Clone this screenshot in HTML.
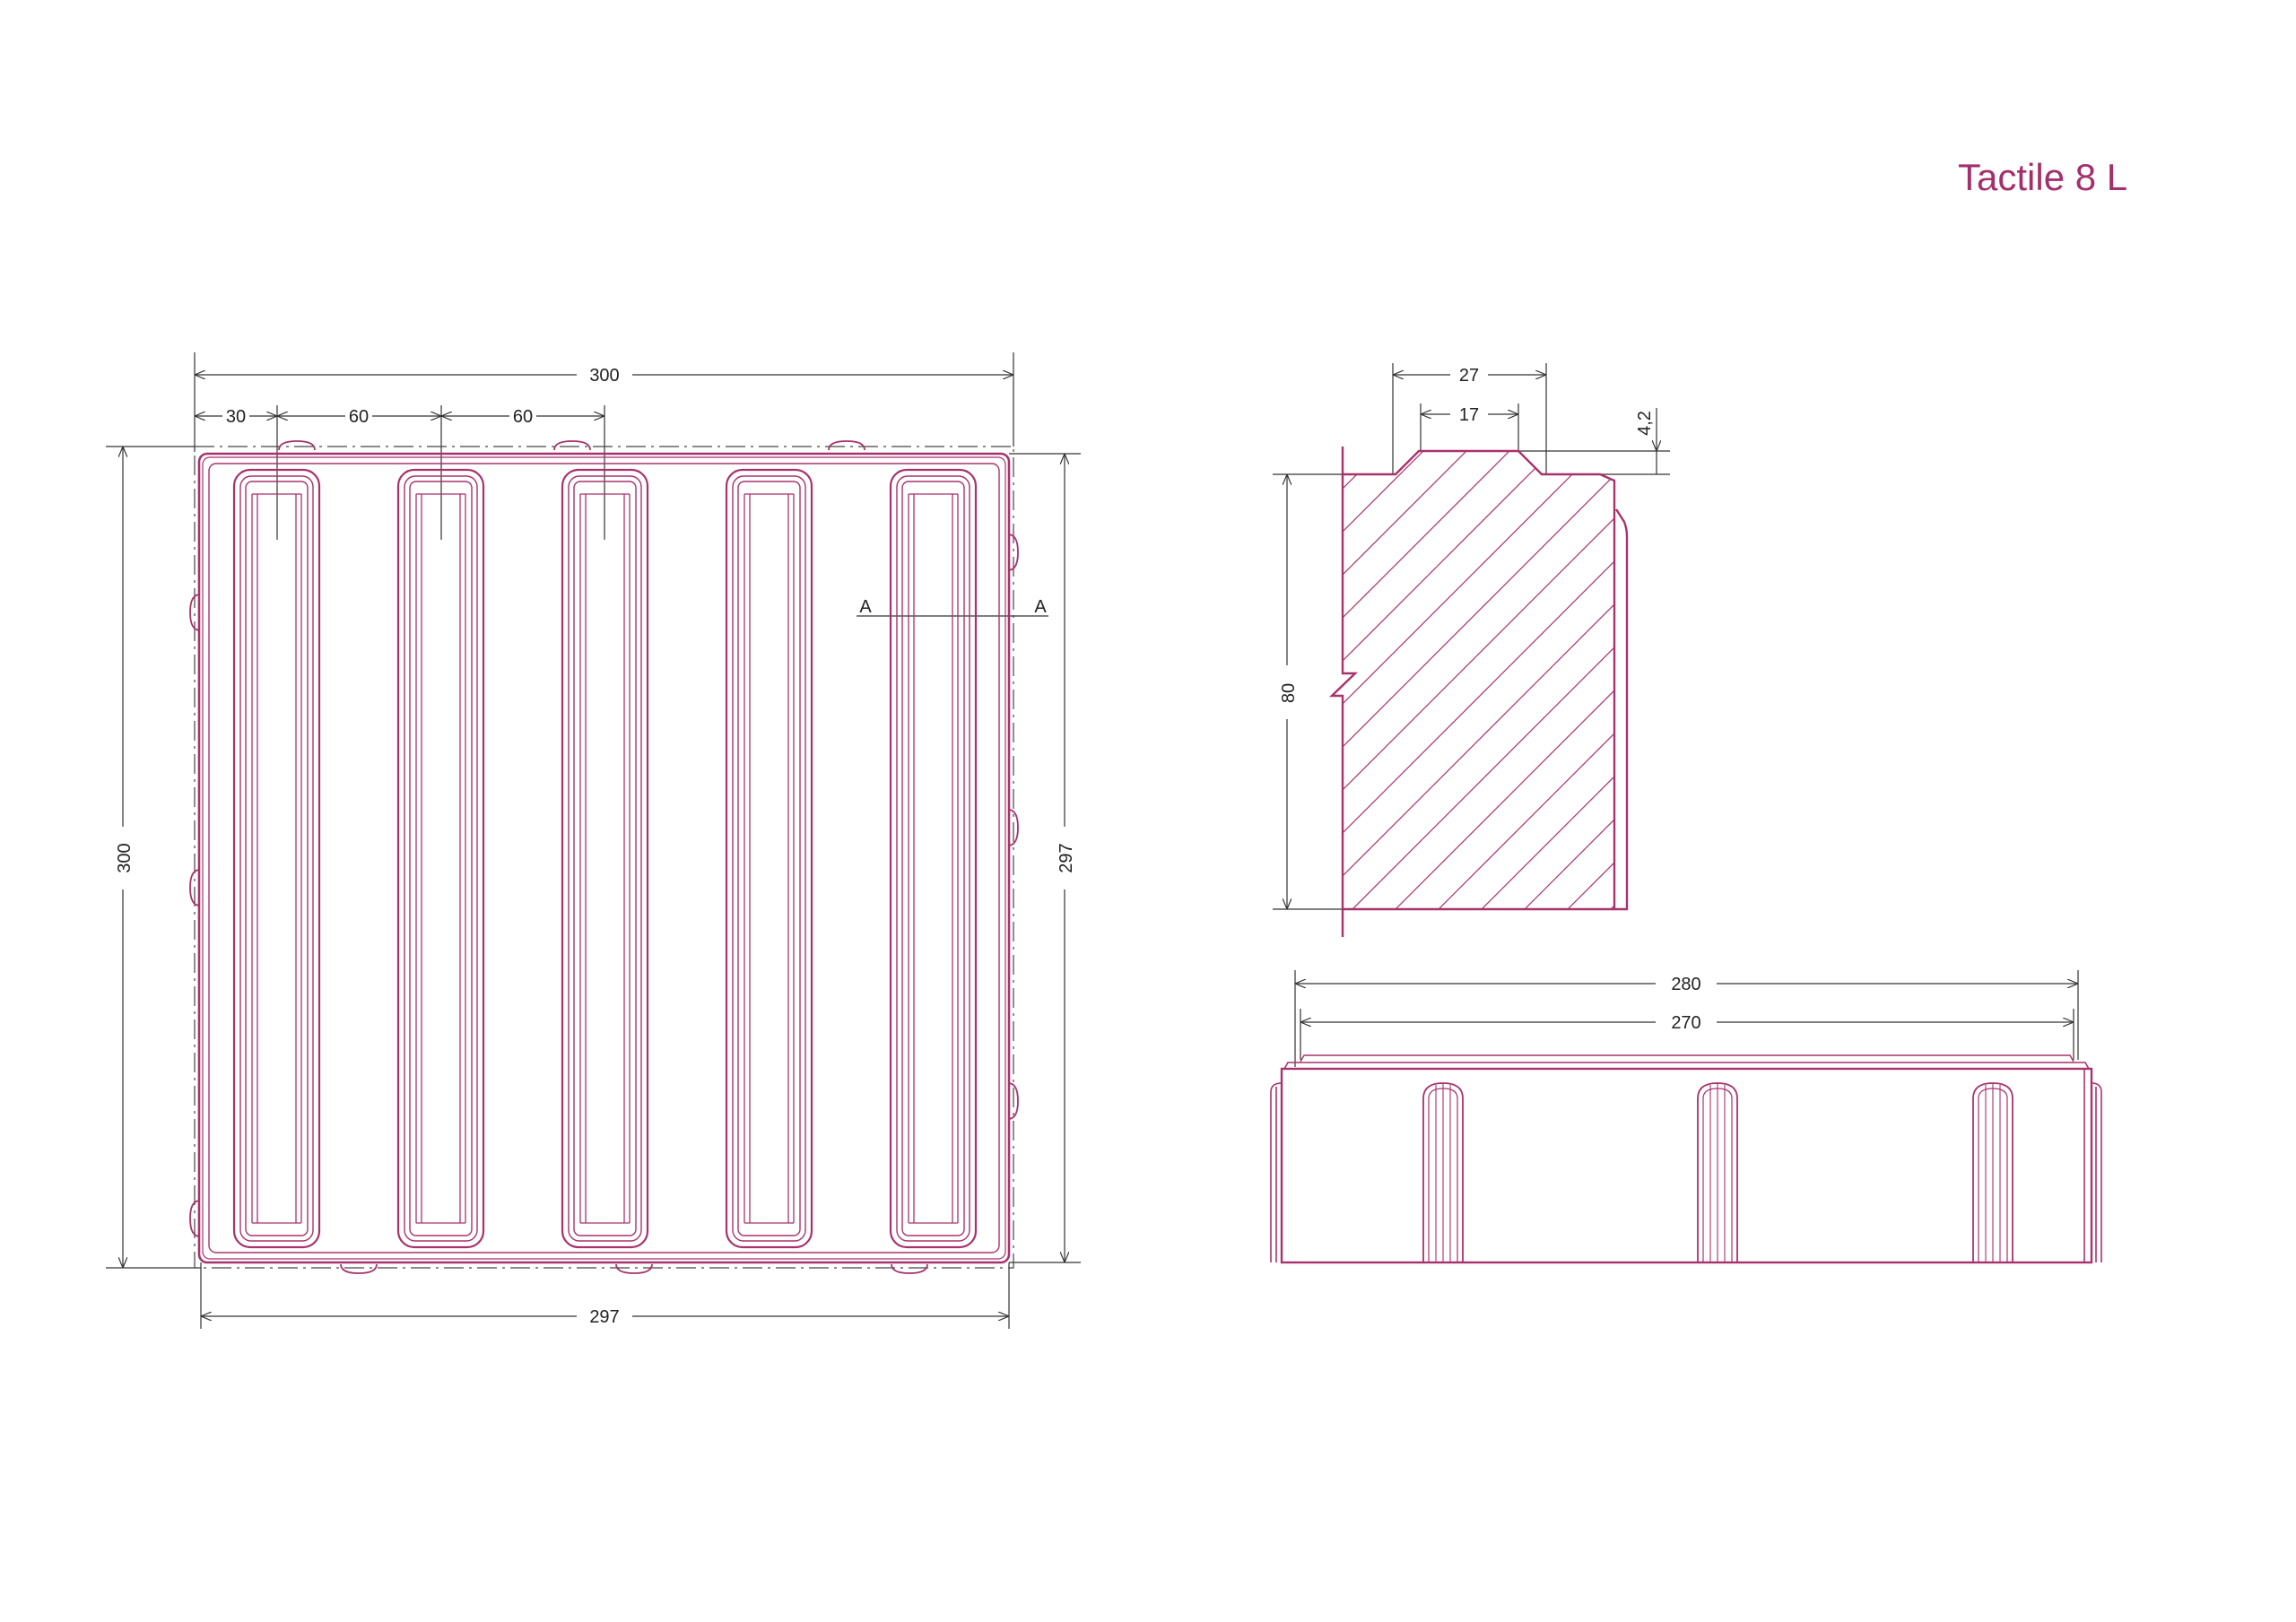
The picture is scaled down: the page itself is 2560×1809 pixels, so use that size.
<!DOCTYPE html>
<html><head><meta charset="utf-8"><style>
html,body{margin:0;padding:0;background:#fff;}
svg{display:block}
text{font-family:"Liberation Sans",sans-serif;fill:#222}
</style></head><body>
<svg width="2560" height="1809" viewBox="0 0 2560 1809" xmlns="http://www.w3.org/2000/svg">
<defs>
<marker id="ar" viewBox="0 0 12 10" refX="12" refY="5" markerWidth="12" markerHeight="10" markerUnits="userSpaceOnUse" orient="auto-start-reverse">
<path d="M0,0 L12,5 L0,10" fill="none" stroke="#333" stroke-width="1.2"/>
</marker>
<g id="bar" fill="none" stroke="#a8326c">
<rect x="0" y="0" width="95" height="867" rx="18" stroke-width="2.2"/>
<rect x="7" y="7" width="81" height="853" rx="12" stroke-width="1.4"/>
<rect x="13" y="13" width="69" height="841" rx="7" stroke-width="1.4"/>
<path d="M20 27 V840 M75 27 V840 M26 27 V840 M69 27 V840 M20 27 H75 M20 840 H75" stroke-width="1.3"/>
</g>
<g id="lug" fill="none" stroke="#a8326c" stroke-width="1.8">
<path d="M0 200 V17 Q0 0 22 0 Q44 0 44 17 V200"/>
<path d="M6 200 V17 Q6 6 22 6 Q38 6 38 17 V200" stroke-width="1.2"/>
<path d="M14 200 V2 M22 200 V0 M30 200 V2" stroke-width="1.1"/>
</g>
<clipPath id="sec"><path d="M1497,529 L1556,529 L1582,503 L1693,503 L1719,529 L1784,529 L1800,536 L1800,1014 L1497,1014 Z"/></clipPath>
</defs>

<text x="2183" y="212" font-size="42" style="fill:#a3306a">Tactile 8 L</text>

<!-- PLAN VIEW -->
<g stroke="#333" stroke-width="1.2" fill="none">
<path d="M217 393 V504 M1130 393 V498"/>
<line x1="217" y1="418" x2="1130" y2="418" marker-start="url(#ar)" marker-end="url(#ar)"/>
<line x1="217" y1="464" x2="309" y2="464" marker-start="url(#ar)" marker-end="url(#ar)"/>
<line x1="309" y1="464" x2="492" y2="464" marker-start="url(#ar)" marker-end="url(#ar)"/>
<line x1="492" y1="464" x2="674" y2="464" marker-start="url(#ar)" marker-end="url(#ar)"/>
<path d="M309 452 V602 M492 452 V602 M674 452 V602"/>
<path d="M118 498 H217 M118 1414 H224"/>
<line x1="137" y1="498" x2="137" y2="1414" marker-start="url(#ar)" marker-end="url(#ar)"/>
<path d="M1125 506 H1205 M1125 1408 H1205"/>
<line x1="1187" y1="506" x2="1187" y2="1408" marker-start="url(#ar)" marker-end="url(#ar)"/>
<path d="M224 1408 V1482 M1125 1408 V1482"/>
<line x1="224" y1="1468" x2="1125" y2="1468" marker-start="url(#ar)" marker-end="url(#ar)"/>
<line x1="955" y1="687" x2="1169" y2="687"/>
</g>
<g font-size="20">
<rect x="643" y="402" width="62" height="32" fill="#fff"/>
<text x="674" y="425" text-anchor="middle">300</text>
<rect x="248" y="451" width="30" height="26" fill="#fff"/>
<text x="263" y="471" text-anchor="middle">30</text>
<rect x="385" y="451" width="30" height="26" fill="#fff"/>
<text x="400" y="471" text-anchor="middle">60</text>
<rect x="568" y="451" width="30" height="26" fill="#fff"/>
<text x="583" y="471" text-anchor="middle">60</text>
<rect x="643" y="1452" width="62" height="32" fill="#fff"/>
<text x="674" y="1475" text-anchor="middle">297</text>
<rect x="124" y="922" width="28" height="70" fill="#fff"/>
<text transform="translate(145,957) rotate(-90)" text-anchor="middle">300</text>
<rect x="1174" y="922" width="28" height="70" fill="#fff"/>
<text transform="translate(1195,957) rotate(-90)" text-anchor="middle">297</text>
<text x="965" y="683" text-anchor="middle">A</text>
<text x="1160" y="683" text-anchor="middle">A</text>
</g>
<path d="M217 498 H1130 V1414 H217 Z" fill="none" stroke="#444" stroke-width="1.2" stroke-dasharray="22,6,3,6"/>
<g fill="none" stroke="#a8326c">
<g stroke-width="1.8">
<path d="M311 502 Q311 492 331 492 Q351 492 351 502"/><path d="M618 502 Q618 492 638 492 Q658 492 658 502"/><path d="M924 502 Q924 492 944 492 Q964 492 964 502"/>
<path d="M380 1410 Q380 1420 400 1420 Q420 1420 420 1410"/><path d="M687 1410 Q687 1420 707 1420 Q727 1420 727 1410"/><path d="M994 1410 Q994 1420 1014 1420 Q1034 1420 1034 1410"/>
<path d="M223 663 Q212 663 212 683 Q212 703 223 703"/><path d="M223 970 Q212 970 212 990 Q212 1010 223 1010"/><path d="M223 1339 Q212 1339 212 1359 Q212 1379 223 1379"/>
<path d="M1124 596 Q1135 596 1135 616 Q1135 636 1124 636"/><path d="M1124 903 Q1135 903 1135 923 Q1135 943 1124 943"/><path d="M1124 1208 Q1135 1208 1135 1228 Q1135 1248 1124 1248"/>
</g>
<rect x="222" y="506" width="903" height="902" rx="9" stroke-width="2.6"/>
<rect x="226" y="510" width="895" height="894" rx="8" stroke-width="1.2"/>
<rect x="233" y="517" width="881" height="880" rx="8" stroke-width="1.4"/>
</g>
<use href="#bar" x="261" y="524"/>
<use href="#bar" x="444" y="524"/>
<use href="#bar" x="627" y="524"/>
<use href="#bar" x="810" y="524"/>
<use href="#bar" x="993" y="524"/>

<!-- SECTION -->
<g stroke="#333" stroke-width="1.2" fill="none">
<path d="M1553 405 V529 M1724 405 V529 M1584 450 V503 M1693 450 V503"/>
<line x1="1553" y1="418" x2="1724" y2="418" marker-start="url(#ar)" marker-end="url(#ar)"/>
<line x1="1584" y1="462" x2="1693" y2="462" marker-start="url(#ar)" marker-end="url(#ar)"/>
<path d="M1693 503 H1862 M1719 529 H1862 M1419 529 H1556 M1419 1014 H1530"/>
<line x1="1847" y1="455" x2="1847" y2="503" marker-end="url(#ar)"/>
<line x1="1847" y1="503" x2="1847" y2="529"/>
<line x1="1435" y1="529" x2="1435" y2="1014" marker-start="url(#ar)" marker-end="url(#ar)"/>
</g>
<g font-size="20">
<rect x="1617" y="405" width="42" height="26" fill="#fff"/>
<text x="1638" y="425" text-anchor="middle">27</text>
<rect x="1617" y="449" width="42" height="26" fill="#fff"/>
<text x="1638" y="469" text-anchor="middle">17</text>
<text transform="translate(1840,472) rotate(-90)" text-anchor="middle">4,2</text>
<rect x="1422" y="742" width="28" height="60" fill="#fff"/>
<text transform="translate(1443,773) rotate(-90)" text-anchor="middle">80</text>
</g>
<g clip-path="url(#sec)" stroke="#a8326c" stroke-width="1.2">
<path d="M1497 545 L1560 482 M1497 593 L1610 480 M1497 641 L1660 478 M1497 689 L1710 476 M1497 737 L1760 474 M1497 785 L1820 462 M1497 833 L1830 500 M1497 881 L1830 548 M1497 929 L1830 596 M1497 977 L1830 644 M1497 1025 L1830 692 M1537 1033 L1830 740 M1585 1033 L1830 788 M1633 1033 L1830 836 M1681 1033 L1830 884 M1729 1033 L1830 932 M1777 1033 L1830 980"/>
</g>
<g fill="none" stroke="#a8326c" stroke-width="2.4">
<path d="M1497 498 V751 H1511 L1485 776 H1497 V1045"/>
<path d="M1497 529 H1556 L1582 503 H1693 L1719 529 H1784 L1800 536 V1014 H1497"/>
<path d="M1802 568 L1811 582 Q1814 590 1814 598 V1014 H1800"/>
</g>

<!-- FRONT VIEW -->
<g stroke="#333" stroke-width="1.2" fill="none">
<path d="M1444 1082 V1190 M2317 1082 V1182 M1450 1125 V1182 M2312 1125 V1182"/>
<line x1="1444" y1="1097" x2="2317" y2="1097" marker-start="url(#ar)" marker-end="url(#ar)"/>
<line x1="1450" y1="1140" x2="2312" y2="1140" marker-start="url(#ar)" marker-end="url(#ar)"/>
</g>
<g font-size="20">
<rect x="1846" y="1083" width="68" height="28" fill="#fff"/>
<text x="1880" y="1104" text-anchor="middle">280</text>
<rect x="1846" y="1126" width="68" height="28" fill="#fff"/>
<text x="1880" y="1147" text-anchor="middle">270</text>
</g>
<g fill="none" stroke="#a8326c">
<path d="M1450 1184 L1454 1177 H2308 L2312 1184" stroke-width="1.4"/>
<path d="M1432 1192 L1436 1185 H2325 L2329 1192" stroke-width="1.6"/>
<rect x="1429" y="1192" width="903" height="216" stroke-width="2.4"/>
<path d="M1417 1408 V1218 Q1417 1208 1429 1208 M1423 1408 V1212" stroke-width="1.6"/>
<path d="M2343 1408 V1218 Q2343 1208 2332 1208 M2337 1408 V1212 M2324 1192 V1408" stroke-width="1.6"/>
</g>
<use href="#lug" x="1587" y="1208"/>
<use href="#lug" x="1893" y="1208"/>
<use href="#lug" x="2200" y="1208"/>
</svg>
</body></html>
